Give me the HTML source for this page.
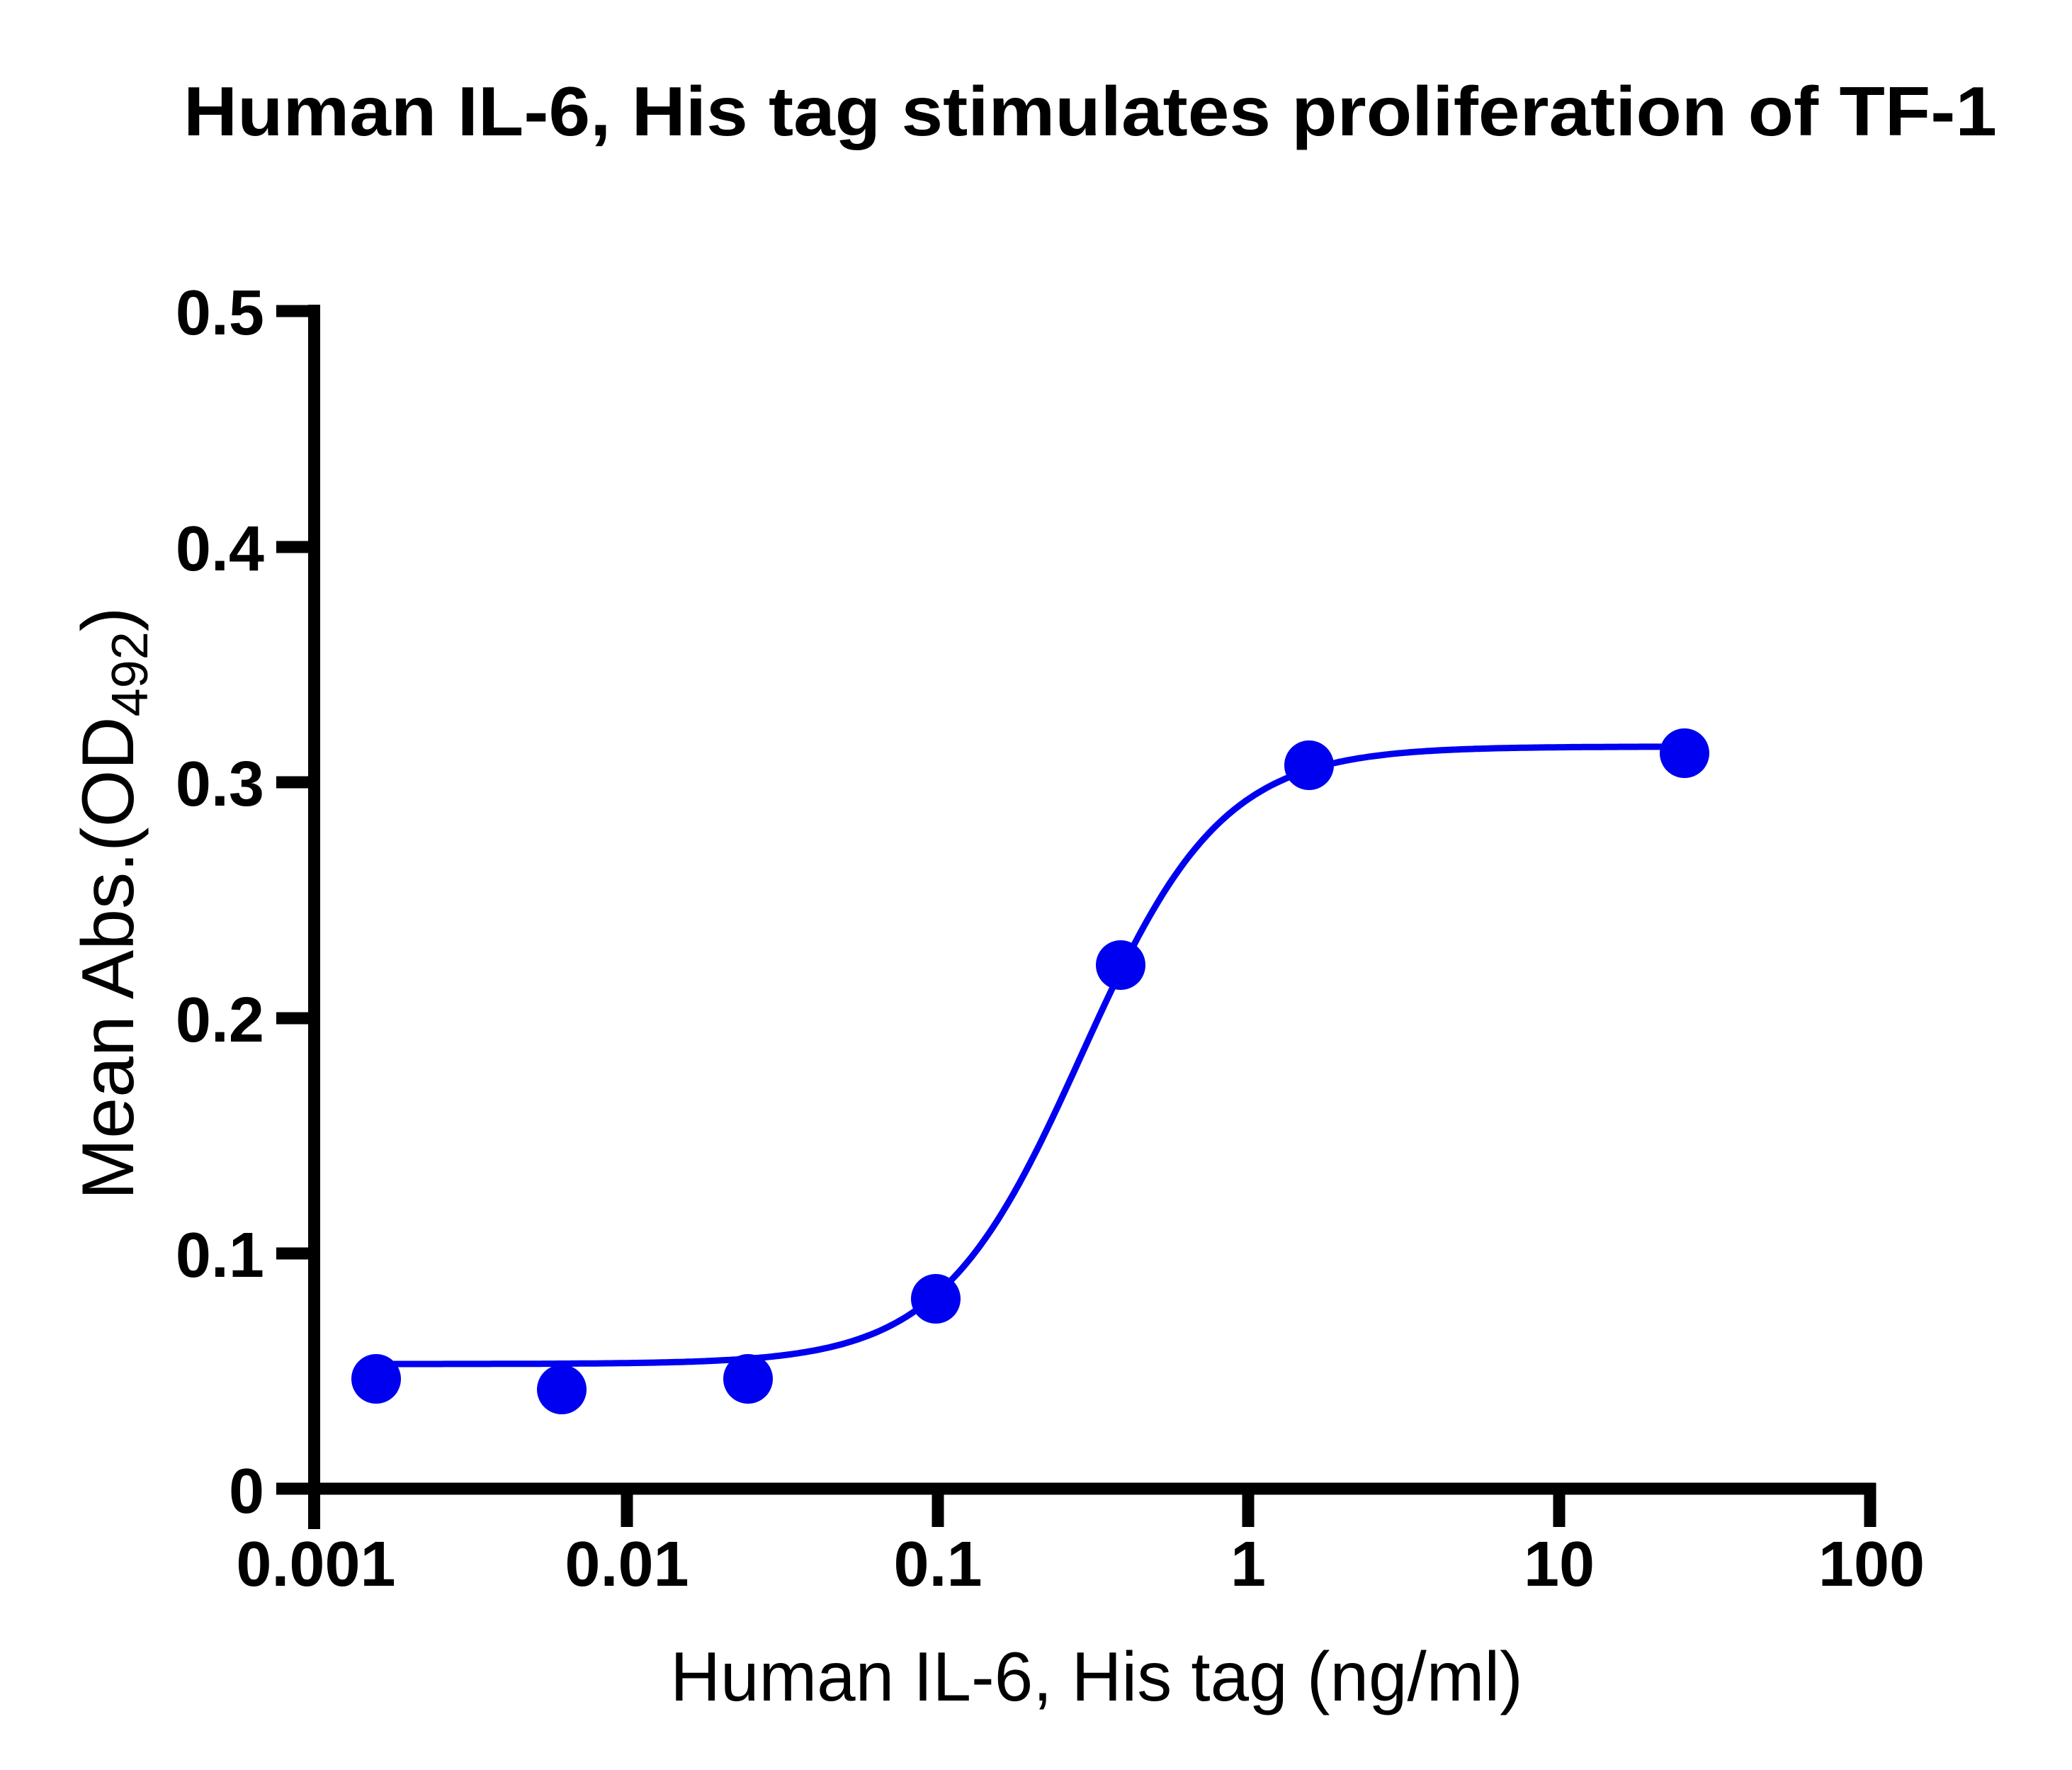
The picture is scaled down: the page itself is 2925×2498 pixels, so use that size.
<!DOCTYPE html>
<html><head><meta charset="utf-8"><style>html,body{margin:0;padding:0;background:#fff}</style></head>
<body>
<svg width="2925" height="2493" xmlns="http://www.w3.org/2000/svg" font-family="Liberation Sans, Arial, sans-serif">
<rect width="2925" height="2493" fill="#fff"/>
<text x="259" y="191" font-size="98" font-weight="bold" textLength="2560" lengthAdjust="spacingAndGlyphs">Human IL-6, His tag stimulates proliferation of TF-1</text>
<g stroke="#000" stroke-width="17" fill="none">
<line x1="443.5" y1="430" x2="443.5" y2="2158"/>
<line x1="390" y1="2101" x2="2648" y2="2101"/>
<line x1="390" y1="439" x2="443" y2="439"/>
<line x1="390" y1="772" x2="443" y2="772"/>
<line x1="390" y1="1104" x2="443" y2="1104"/>
<line x1="390" y1="1437" x2="443" y2="1437"/>
<line x1="390" y1="1769" x2="443" y2="1769"/>
<line x1="885" y1="2101" x2="885" y2="2155"/>
<line x1="1324" y1="2101" x2="1324" y2="2155"/>
<line x1="1762" y1="2101" x2="1762" y2="2155"/>
<line x1="2201" y1="2101" x2="2201" y2="2155"/>
<line x1="2640" y1="2093" x2="2640" y2="2155"/>
</g>
<g font-size="90" font-weight="bold" text-anchor="end">
<text x="373" y="472">0.5</text>
<text x="373" y="805">0.4</text>
<text x="373" y="1137">0.3</text>
<text x="373" y="1470">0.2</text>
<text x="373" y="1802">0.1</text>
<text x="373" y="2135">0</text>
</g>
<g font-size="90" font-weight="bold" text-anchor="middle">
<text x="446" y="2238">0.001</text>
<text x="885" y="2238">0.01</text>
<text x="1324" y="2238">0.1</text>
<text x="1762" y="2238">1</text>
<text x="2201" y="2238">10</text>
<text x="2642" y="2238">100</text>
</g>
<text x="1548" y="2400" font-size="98" text-anchor="middle">Human IL-6, His tag (ng/ml)</text>
<text transform="translate(188,1275) rotate(-90)" font-size="104" text-anchor="middle">Mean Abs.(OD<tspan font-size="72" dy="20">492</tspan><tspan dy="-20">)</tspan></text>
<path id="curve" fill="none" stroke="#0000f0" stroke-width="9"/>
<g fill="#0000f0">
<circle cx="531" cy="1946" r="35"/>
<circle cx="793" cy="1961" r="35"/>
<circle cx="1056" cy="1946" r="35"/>
<circle cx="1321" cy="1833" r="35"/>
<circle cx="1582" cy="1362" r="35"/>
<circle cx="1848" cy="1080" r="35"/>
<circle cx="2378" cy="1063" r="35"/>
</g>
</svg>
<script>
var d="";for(var px=531;px<=2378;px+=4){var lg=(px-446)/438.8-3;var x=Math.pow(10,lg);var f=1/(1+Math.pow(0.29/x,1.92));var v=0.052+0.262*f;var y=2098-3326*v;d+=(px==531?"M":"L")+px+","+y.toFixed(1);}
document.getElementById("curve").setAttribute("d",d);
</script>
</body></html>
